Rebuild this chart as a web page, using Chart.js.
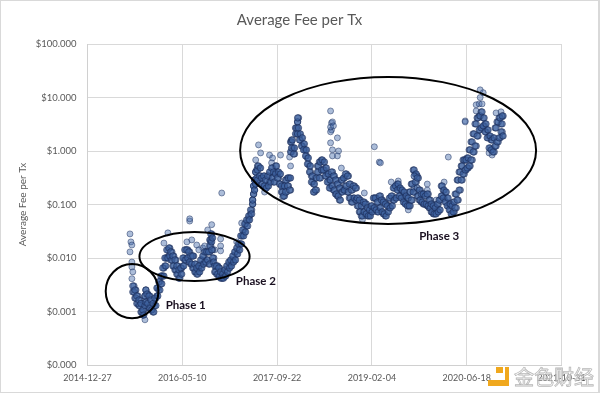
<!DOCTYPE html>
<html>
<head>
<meta charset="utf-8">
<script src="https://cdn.jsdelivr.net/npm/chart.js@4"></script>
<style>
html, body { margin: 0; padding: 0; background: #fff; }
canvas { display: block; }
</style>
</head>
<body>
<canvas id="canvas" width="600" height="393"></canvas>
<script>
// x values are spreadsheet day serials, the axis prints them as dates
const xTickValues = [42000, 42500, 43000, 43500, 44000, 44500]
const xTickLabels = ['2014-12-27', '2016-05-10', '2017-09-22', '2019-02-04', '2020-06-18', '2021-10-31']
const yTickValues = [0.0001, 0.001, 0.01, 0.1, 1, 10, 100]
const yTickLabels = ['$0.000', '$0.001', '$0.010', '$0.100', '$1.000', '$10.000', '$100.000']
const chartTitle = 'Average Fee per Tx'

const days = [
    42239, 42245, 42250, 42255, 42260, 42266, 42271, 42276, 42282, 42287,
    42292, 42297, 42303, 42303, 42308, 42308, 42313, 42318, 42324, 42329,
    42334, 42339, 42345, 42350, 42355, 42361, 42366, 42371, 42376, 42382,
    42387, 42392, 42397, 42403, 42408, 42413, 42418, 42424, 42429, 42434,
    42439, 42445, 42450, 42455, 42461, 42466, 42471, 42476, 42482, 42487,
    42492, 42497, 42503, 42508, 42513, 42518, 42524, 42529, 42534, 42539,
    42545, 42550, 42555, 42560, 42566, 42571, 42576, 42582, 42587, 42592,
    42597, 42603, 42608, 42613, 42618, 42624, 42629, 42634, 42639, 42645,
    42645, 42650, 42650, 42655, 42655, 42660, 42660, 42666, 42671, 42676,
    42681, 42687, 42692, 42697, 42702, 42708, 42713, 42718, 42724, 42729,
    42734, 42739, 42745, 42750, 42755, 42760, 42766, 42771, 42776, 42781,
    42787, 42792, 42797, 42803, 42808, 42813, 42818, 42824, 42829, 42834,
    42839, 42845, 42850, 42855, 42860, 42866, 42871, 42871, 42876, 42876,
    42881, 42881, 42887, 42887, 42892, 42897, 42897, 42902, 42908, 42913,
    42918, 42923, 42929, 42934, 42939, 42944, 42950, 42955, 42960, 42966,
    42971, 42976, 42981, 42987, 42992, 42997, 43002, 43008, 43013, 43018,
    43023, 43029, 43034, 43039, 43044, 43050, 43055, 43060, 43066, 43071,
    43071, 43076, 43076, 43081, 43087, 43092, 43097, 43102, 43108, 43108,
    43108, 43113, 43118, 43123, 43129, 43134, 43139, 43144, 43150, 43155,
    43160, 43165, 43171, 43176, 43181, 43187, 43192, 43197, 43202, 43208,
    43213, 43218, 43223, 43229, 43234, 43239, 43244, 43250, 43255, 43260,
    43265, 43271, 43276, 43281, 43286, 43292, 43297, 43302, 43308, 43313,
    43318, 43323, 43329, 43334, 43339, 43344, 43350, 43355, 43360, 43366,
    43371, 43376, 43381, 43387, 43392, 43397, 43402, 43408, 43413, 43418,
    43423, 43429, 43434, 43439, 43444, 43450, 43455, 43460, 43465, 43471,
    43476, 43481, 43487, 43492, 43497, 43502, 43508, 43513, 43518, 43523,
    43529, 43534, 43539, 43545, 43550, 43555, 43560, 43566, 43571, 43576,
    43581, 43587, 43592, 43597, 43602, 43608, 43613, 43618, 43624, 43629,
    43634, 43639, 43645, 43650, 43655, 43660, 43666, 43671, 43676, 43681,
    43687, 43692, 43697, 43702, 43708, 43713, 43718, 43723, 43729, 43734,
    43723, 43739, 43739, 43745, 43750, 43755, 43760, 43766, 43771, 43776,
    43781, 43787, 43792, 43797, 43802, 43808, 43813, 43818, 43824, 43829,
    43834, 43839, 43845, 43850, 43855, 43860, 43866, 43871, 43876, 43881,
    43887, 43892, 43897, 43902, 43908, 43913, 43918, 43923, 43929, 43934,
    43939, 43945, 43950, 43955, 43960, 43966, 43971, 43976, 43981, 43987,
    43992, 43997, 44002, 44008, 44013, 44018, 44023, 44029, 44034, 44039,
    44044, 44050, 44055, 44060, 44066, 44071, 44076, 44081, 44087, 44092,
    44097, 44102, 44108, 44113, 44118, 44124, 44129, 44134, 44139, 44145,
    44150, 44155, 44160, 44166, 44171, 44176, 44181, 44187, 44192, 44187
]
// upper and lower edge of the band, read one pass each along the same days
const fees = [
    .003, .00232, .00252, .00178, .00195, .00141, .00164, .00129, .00141, .00098,
    .00107, .00086, .00129, .00195, .00252, .0015, .00212, .00141, .00195, .00116,
    .00164, .00107, .00141, .00098, .00178, .00129, .00275, .00195, .0036, .00252,
    .0046, .0033, .0065, .0046, .01, .0071, .0142, .01, .0154, .0109,
    .013, .0092, .0109, .0071, .0092, .006, .0071, .005, .006, .0042,
    .0065, .005, .01, .0071, .0142, .0092, .0142, .01, .013, .0084,
    .0109, .0077, .0109, .0065, .0077, .0055, .0065, .005, .0071, .0055,
    .0092, .0065, .0109, .0077, .013, .0084, .013, .0092, .013, .0077,
    .0168, .0218, .0282, .02, .0142, .0237, .01, .0084, .0071, .0055,
    .0071, .005, .0065, .0046, .0055, .0042, .005, .0042, .006, .0046,
    .0071, .0055, .0084, .0065, .0092, .0071, .0109, .0084, .013, .0092,
    .0154, .0119, .0183, .0142, .0259, .0183, .0335, .0259, .0434, .0307,
    .0516, .0398, .0612, .0516, .0793, .0667, .102, .121, .157, .222,
    .186, .287, .241, .405, .313, .442, .287, .525, .341, .482,
    .313, .241, .341, .222, .287, .203, .341, .222, .405, .263,
    .482, .313, .405, .263, .372, .525, .313, .405, .241, .372,
    .222, .171, .144, .222, .171, .287, .222, .313, .186, .313,
    .96, 1.48, 1.14, 1.61, .881, 1.14, 2.09, 2.7, 3.5, 2.09,
    4.16, 2.7, 1.61, 2.09, 1.24, 1.76, 1.05, 1.36, .808, 1.05,
    .572, .741, .405, .525, .263, .341, .171, .241, .186, .313,
    .405, .525, .313, .624, .442, .68, .442, .624, .341, .482,
    .263, .372, .203, .287, .405, .222, .341, .186, .287, .157,
    .241, .144, .203, .121, .287, .171, .313, .186, .372, .222,
    .341, .171, .241, .132, .186, .111, .222, .132, .203, .121,
    .132, .0943, .121, .0728, .0943, .0612, .111, .0728, .102, .0667,
    .0865, .0612, .0793, .0612, .0943, .0728, .132, .0865, .132, .0793,
    .111, .0728, .144, .0865, .121, .0728, .111, .0667, .102, .0612,
    .0943, .0728, .132, .0865, .144, .0943, .203, .121, .222, .132,
    .186, .241, .144, .203, .132, .186, .111, .171, .102, .144,
    .0943, .132, .0943, .171, .121, .241, .171, .442, .263, .372,
    .341, .203, .313, .144, .186, .121, .157, .111, .157, .102,
    .144, .102, .157, .0943, .121, .0865, .102, .0728, .0943, .0667,
    .0865, .0667, .102, .0728, .121, .0793, .144, .222, .132, .186,
    .111, .171, .0943, .132, .0793, .102, .0667, .0943, .0728, .111,
    .0865, .157, .121, .287, .186, .405, .287, .525, .372, .68,
    .442, .68, .482, .741, .525, 1.05, .68, 1.48, .96, 2.09,
    1.24, 3.21, 1.91, 4.16, 2.48, 4.53, 2.7, 5.39, 2.95, 4.16,
    2.28, 3.21, 1.76, 2.48, 1.14, 1.91, 1.05, 1.61, .96, 1.76,
    1.24, 2.7, 1.48, 3.5, 1.76, 4.16, 2.28, 3.21, 1.91, 4.53
]
const feesOther = [
    .00232, .003, .00178, .00252, .00141, .00195, .00129, .00164, .00098, .00141,
    .00086, .00107, .00195, .00129, .0015, .00252, .00141, .00212, .00116, .00195,
    .00107, .00164, .00098, .00141, .00129, .00178, .00195, .00275, .00252, .0036,
    .0033, .0046, .0046, .0065, .0071, .01, .01, .0142, .0109, .0154,
    .0092, .013, .0071, .0109, .006, .0092, .005, .0071, .0042, .006,
    .005, .0065, .0071, .01, .0092, .0142, .01, .0142, .0084, .013,
    .0077, .0109, .0065, .0109, .0055, .0077, .005, .0065, .0055, .0071,
    .0065, .0092, .0077, .0109, .0084, .013, .0092, .013, .0077, .013,
    .0218, .0168, .02, .0282, .0237, .0142, .0084, .01, .0055, .0071,
    .005, .0071, .0046, .0065, .0042, .0055, .0042, .005, .0046, .006,
    .0055, .0071, .0065, .0084, .0071, .0092, .0084, .0109, .0092, .013,
    .0119, .0154, .0142, .0183, .0183, .0259, .0259, .0335, .0307, .0434,
    .0398, .0516, .0516, .0612, .0667, .0793, .121, .102, .222, .157,
    .287, .186, .405, .241, .442, .313, .525, .287, .482, .341,
    .241, .313, .222, .341, .203, .287, .222, .341, .263, .405,
    .313, .482, .263, .405, .525, .372, .405, .313, .372, .241,
    .171, .222, .222, .144, .287, .171, .313, .222, .313, .186,
    1.48, .96, 1.61, 1.14, 1.14, .881, 2.7, 2.09, 2.09, 3.5,
    2.7, 4.16, 2.09, 1.61, 1.76, 1.24, 1.36, 1.05, 1.05, .808,
    .741, .572, .525, .405, .341, .263, .241, .171, .313, .186,
    .525, .405, .624, .313, .68, .442, .624, .442, .482, .341,
    .372, .263, .287, .203, .222, .405, .186, .341, .157, .287,
    .144, .241, .121, .203, .171, .287, .186, .313, .222, .372,
    .171, .341, .132, .241, .111, .186, .132, .222, .121, .203,
    .0943, .132, .0728, .121, .0612, .0943, .0728, .111, .0667, .102,
    .0612, .0865, .0612, .0793, .0728, .0943, .0865, .132, .0793, .132,
    .0728, .111, .0865, .144, .0728, .121, .0667, .111, .0612, .102,
    .0728, .0943, .0865, .132, .0943, .144, .121, .203, .132, .222,
    .241, .186, .203, .144, .186, .132, .171, .111, .144, .102,
    .132, .0943, .171, .0943, .241, .121, .442, .171, .372, .263,
    .203, .341, .144, .313, .121, .186, .111, .157, .102, .157,
    .102, .144, .0943, .157, .0865, .121, .0728, .102, .0667, .0943,
    .0667, .0865, .0728, .102, .0793, .121, .222, .144, .186, .132,
    .171, .111, .132, .0943, .102, .0793, .0943, .0667, .111, .0728,
    .157, .0865, .287, .121, .405, .186, .525, .287, .68, .372,
    .68, .442, .741, .482, 1.05, .525, 1.48, .68, 2.09, .96,
    3.21, 1.24, 4.16, 1.91, 4.53, 2.48, 5.39, 2.7, 4.16, 2.95,
    3.21, 2.28, 2.48, 1.76, 1.91, 1.14, 1.61, 1.05, 1.76, .96,
    2.7, 1.24, 3.5, 1.48, 4.16, 1.76, 3.21, 2.28, 4.53, 1.91
]

// the stray dots away from the main band
const strayDays = [
    42224, 42229, 42234, 42224, 42234, 42234, 42239, 42234, 42303,
    42424, 42403, 42539, 42539, 42655, 42634, 42702, 42702, 42702, 42708, 42813, 42787,
    42524, 42550, 42576, 42608, 42587, 42671, 42618,
    42902, 42913, 42887, 42960, 42976, 43018, 42971, 43071, 43066, 42934, 43029,
    43282, 43287, 43292, 43287, 43282, 43318, 43282, 43292, 43324, 43318, 43292, 43513, 43539, 43339, 43450, 43460, 43282, 43297,
    43903, 43545, 43602, 43639, 43792, 43792, 43881, 43692, 43839,
    44071, 44087, 44071, 44050, 44066, 44081, 44050, 43992, 43992, 44155, 44181, 44187, 44118, 44134
]
const strayFees = [
    .0282, .02, .0175, .013, .0084, .0068, .0055, .0041, .0007,
    .0295, .019, .049, .054, .042, .0335, .0227, .0168, .0136, .164, .045, .02,
    .02, .0218, .0175, .0154, .0142, .0142, .0168,
    1.3, .92, .68, .84, .74, .84, .6, .525, .77, .171, .138,
    5.6, 3.35, 3.5, 2.48, 2.28, 1.76, 1.42, 1.05, 1, .81, .81, 1.2, .62, .48, .052, .164, 2.8, 2.95,
    .77, .6, .263, .275, .241, .186, .263, .0793, .121,
    13.9, 12.3, 10, 7.3, 7.6, 7.6, 5.6, 3.65, 3.5, 5.15, 5.4, 4.3, .92, .84
]

// hand drawn ovals and their captions, in axis units
const ovalDayMin = [42096, 42274, 42805]
const ovalDayMax = [42374, 42855, 44366]
const ovalFeeMin = [0.00075, 0.0037, 0.0434]
const ovalFeeMax = [0.0077, 0.0307, 24.2]
const phaseLabels = ['Phase 1', 'Phase 2', 'Phase 3']
const phaseDays = [42518, 42888, 43855]
const phaseFees = [0.00132, 0.0036, 0.0255]

const points = days.map((d, i) => ({ x: d, y: fees[i] }))
const otherPoints = days.map((d, i) => ({ x: d, y: feesOther[i] }))
const strayPoints = strayDays.map((d, i) => ({ x: d, y: strayFees[i] }))

const annotations = {
    id: 'annotations',
    beforeDraw(chart) {
        const { ctx, width, height } = chart
        ctx.save()
        ctx.strokeStyle = '#d9d9d9'
        ctx.lineWidth = 2
        ctx.strokeRect(0, 0, width - 1, height)
        ctx.font = '15px Lato'
        ctx.fillStyle = '#595959'
        ctx.textAlign = 'center'
        ctx.textBaseline = 'middle'
        ctx.fillText(chartTitle, 299.5, 20)
        ctx.restore()
    },
    afterDatasetsDraw(chart) {
        const { ctx, scales: { x, y } } = chart
        ctx.save()
        ctx.strokeStyle = '#000'
        ctx.lineWidth = 2
        ovalDayMin.forEach((d, i) => {
            const x0 = x.getPixelForValue(d)
            const x1 = x.getPixelForValue(ovalDayMax[i])
            const y0 = y.getPixelForValue(ovalFeeMax[i])
            const y1 = y.getPixelForValue(ovalFeeMin[i])
            ctx.beginPath()
            ctx.ellipse((x0 + x1) / 2, (y0 + y1) / 2, (x1 - x0) / 2, (y1 - y0) / 2, 0, 0, Math.PI * 2)
            ctx.stroke()
        })
        ctx.font = 'bold 11.5px Lato'
        ctx.fillStyle = '#1a1020'
        ctx.textAlign = 'center'
        ctx.textBaseline = 'middle'
        phaseLabels.forEach((t, i) => {
            ctx.fillText(t, x.getPixelForValue(phaseDays[i]), y.getPixelForValue(phaseFees[i]))
        })
        ctx.restore()
    },
    afterDraw(chart) {
        // site watermark, bottom right
        const { ctx } = chart
        ctx.save()
        ctx.fillStyle = '#f0a81e'
        ctx.fillRect(496, 367, 7, 6)
        ctx.beginPath()
        ctx.moveTo(505, 367)
        ctx.lineTo(509, 367)
        ctx.lineTo(509, 386)
        ctx.lineTo(488, 386)
        ctx.lineTo(488, 380)
        ctx.lineTo(505, 380)
        ctx.closePath()
        ctx.fill()
        ctx.font = '20px "Noto Sans CJK SC"'
        ctx.textAlign = 'left'
        ctx.textBaseline = 'middle'
        ctx.lineWidth = 0.8
        ctx.strokeStyle = 'rgba(170,170,170,0.85)'
        ctx.fillStyle = 'rgba(255,255,255,0.6)'
        ctx.fillText('金色财经', 514, 377)
        ctx.strokeText('金色财经', 514, 377)
        ctx.restore()
    }
}

const bandStyle = {
    showLine: false,
    pointRadius: 3.2,
    pointBorderWidth: 1,
    backgroundColor: 'rgba(62,98,160,0.6)',
    borderColor: 'rgba(25,42,85,0.6)'
}
const strayStyle = {
    showLine: false,
    pointRadius: 3,
    pointBorderWidth: 1,
    backgroundColor: 'rgba(72,108,170,0.45)',
    borderColor: 'rgba(30,50,95,0.5)'
}

const configChart = {
    type: 'scatter',
    plugins: [annotations],
    data: {
        datasets: [
            { data: points, ...bandStyle },
            { data: otherPoints, ...bandStyle },
            { data: strayPoints, ...strayStyle }
        ]
    },
    options: {
        responsive: false,
        animation: false,
        layout: { padding: { top: 44, right: 38.5, bottom: 0, left: 0 } },
        plugins: {
            legend: { display: false },
            tooltip: { enabled: false }
        },
        scales: {
            x: {
                type: 'linear',
                min: 42000,
                max: 44500,
                afterBuildTicks(scale) { scale.ticks = xTickValues.map(v => ({ value: v })) },
                afterFit(scale) { scale.height = 28 },
                grid: { color: '#d9d9d9', tickLength: 0, drawTicks: false },
                border: { color: '#d0d0d0' },
                ticks: {
                    color: '#595959',
                    font: { family: 'Lato', size: 9 },
                    padding: 8,
                    maxRotation: 0,
                    autoSkip: false,
                    callback: (v) => xTickLabels[xTickValues.indexOf(v)]
                }
            },
            y: {
                type: 'logarithmic',
                min: 0.0001,
                max: 100,
                afterBuildTicks(scale) { scale.ticks = yTickValues.map(v => ({ value: v })) },
                afterFit(scale) { scale.width = 87.5 },
                grid: { color: '#d9d9d9', tickLength: 0, drawTicks: false },
                border: { color: '#d0d0d0' },
                title: {
                    display: true,
                    text: chartTitle,
                    color: '#595959',
                    font: { family: 'Lato', size: 10, weight: 'normal' },
                    padding: { top: 17, bottom: 0 }
                },
                ticks: {
                    color: '#595959',
                    font: { family: 'Lato', size: 9.5 },
                    padding: 11,
                    autoSkip: false,
                    callback: (v) => yTickLabels[yTickValues.indexOf(v)]
                }
            }
        }
    }
}

const canvas = document.getElementById('canvas')
const myChart = new Chart(canvas, configChart)
</script>
</body>
</html>
